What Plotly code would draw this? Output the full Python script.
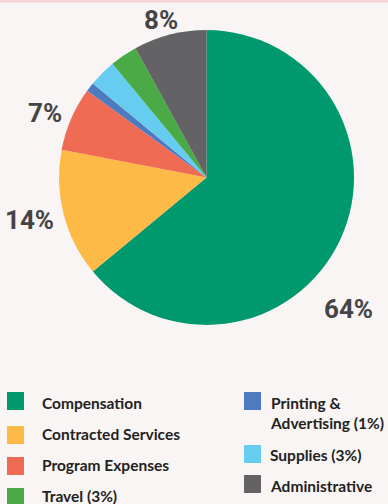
import plotly.graph_objects as go

# ---- data ----
categories = ["Compensation", "Contracted Services", "Program Expenses",
              "Printing & Advertising", "Supplies", "Travel", "Administrative"]
values = [64, 14, 7, 1, 3, 3, 8]
legend_labels = ["Compensation", "Contracted Services", "Program Expenses",
                 "Printing &<br>Advertising (1%)", "Supplies (3%)", "Travel (3%)",
                 "Administrative"]
colors = ["#00996e", "#fdba47", "#ef6b53", "#4e7bbf", "#66ccf0", "#4aab46", "#636365"]
shown_pct = {"Compensation": 64, "Contracted Services": 14,
             "Program Expenses": 7, "Administrative": 8}

W, H = 388, 504

fig = go.Figure(go.Pie(
    labels=categories, values=values, sort=False, direction="clockwise",
    rotation=0, textinfo="none", hoverinfo="label+percent",
    marker=dict(colors=colors, line=dict(width=0)),
    domain=dict(x=[59 / W, 354 / W], y=[1 - 325 / H, 1 - 30 / H]),
    showlegend=False,
))

# percentage labels (positions in pixels)
pct_pos = {"Compensation": (348, 309), "Contracted Services": (29, 220),
           "Program Expenses": (45, 113), "Administrative": (161, 20)}
annotations = []
for cat, v in zip(categories, values):
    if cat in shown_pct:
        px, py = pct_pos[cat]
        annotations.append(dict(
            x=px / W, y=1 - py / H, xref="paper", yref="paper",
            text=f"<b>{v}%</b>", showarrow=False, xanchor="center", yanchor="middle",
            font=dict(family="Roboto, sans-serif", size=26, color="#444446"),
        ))

# legend (two columns)
legend_layout = {
    "Compensation": (7, 392, 40, 403),
    "Contracted Services": (7, 426, 40, 434),
    "Program Expenses": (7, 457, 40, 465),
    "Travel": (7, 488, 40, 496),
    "Printing & Advertising": (244, 392, 268, 413),
    "Supplies": (244, 445, 268, 455),
    "Administrative": (244, 475, 268, 486),
}
shapes = [dict(type="rect", xref="paper", yref="paper", x0=0, x1=1,
               y0=1 - 2.5 / H, y1=1, fillcolor="#f6d5d5", line=dict(width=0),
               layer="above")]
for cat, lab, col in zip(categories, legend_labels, colors):
    sx, sy, tx, ty = legend_layout[cat]
    shapes.append(dict(type="rect", xref="paper", yref="paper",
                       x0=sx / W, x1=(sx + 17) / W, y0=1 - (sy + 18) / H, y1=1 - sy / H,
                       fillcolor=col, line=dict(width=0)))
    annotations.append(dict(
        x=tx / W, y=1 - ty / H, xref="paper", yref="paper", text=f"<b>{lab}</b>",
        showarrow=False, xanchor="left", yanchor="middle", align="left",
        font=dict(family="Lato, sans-serif", size=15.5, color="#222222"),
    ))

fig.update_layout(
    width=W, height=H, margin=dict(l=0, r=0, t=0, b=0),
    paper_bgcolor="#f9f5f4", plot_bgcolor="#f9f5f4",
    annotations=annotations, shapes=shapes,
)

fig.write_html("out.html")
